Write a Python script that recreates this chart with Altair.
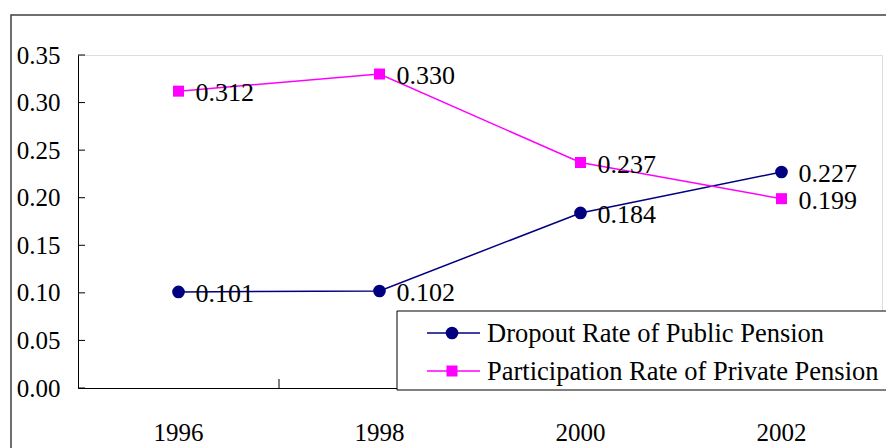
import altair as alt
import pandas as pd

years = ["1996", "1998", "2000", "2002"]
dropout = [0.101, 0.102, 0.184, 0.227]
participation = [0.312, 0.330, 0.237, 0.199]
series_names = ["Dropout Rate of Public Pension", "Participation Rate of Private Pension"]
series_colors = ["#000080", "#FF00FF"]
series_shapes = ["circle", "square"]
y_ticks = [0.00, 0.05, 0.10, 0.15, 0.20, 0.25, 0.30, 0.35]

rows = []
for name, vals in zip(series_names, [dropout, participation]):
    for yr, v in zip(years, vals):
        rows.append({"year": yr, "value": v, "series": name, "label": f"{v:.3f}"})
df = pd.DataFrame(rows)
one = pd.DataFrame({"a": [0]})
ytick_df = pd.DataFrame({"v": y_ticks})
xtick_df = pd.DataFrame({"year": years[1:]})

W, H = 804, 333
FONT = "Liberation Serif"
FS = 25

xscale = alt.Scale(type="band", domain=years, paddingInner=0, paddingOuter=0)
yscale = alt.Scale(domain=[0, 0.35], nice=False, zero=True)
cscale = alt.Scale(domain=series_names, range=series_colors)
sscale = alt.Scale(domain=series_names, range=series_shapes)

x_axis = alt.Axis(title=None, ticks=False, tickSize=0, grid=False, domainColor="black",
                  domainWidth=1, labelFont=FONT, labelFontSize=FS, labelColor="black",
                  labelPadding=32, labelAngle=0)
y_axis = alt.Axis(title=None, ticks=False, tickSize=0, grid=False, domainColor="black",
                  domainWidth=1, labelFont=FONT, labelFontSize=FS, labelColor="black",
                  labelPadding=18, values=y_ticks, format=".2f")

X = alt.X("year:N", scale=xscale, axis=x_axis, bandPosition=0.5)
Y = alt.Y("value:Q", scale=yscale, axis=y_axis)

frame = alt.Chart(one).mark_rect(fill="white", fillOpacity=0, stroke="#404040", strokeWidth=1.5).encode(
    x=alt.value(-67), x2=alt.value(W + 60), y=alt.value(-40), y2=alt.value(H + 120)
)

lines = alt.Chart(df).mark_line(strokeWidth=1.5).encode(
    x=X, y=Y,
    color=alt.Color("series:N", scale=cscale, legend=None),
    detail="series:N",
)

yticks = alt.Chart(ytick_df).mark_rule(color="black", strokeWidth=1).encode(
    y=alt.Y("v:Q", scale=yscale, axis=y_axis), x=alt.value(0), x2=alt.value(7)
)

xticks = alt.Chart(xtick_df).mark_rule(color="black", strokeWidth=1).encode(
    x=alt.X("year:N", scale=xscale, axis=x_axis, bandPosition=0),
    y=alt.value(H - 9), y2=alt.value(H)
)

points = alt.Chart(df).mark_point(filled=True, opacity=1).encode(
    x=X, y=Y,
    color=alt.Color("series:N", scale=cscale, legend=None),
    shape=alt.Shape("series:N", scale=sscale, legend=None),
    size=alt.condition("datum.series == '" + series_names[0] + "'", alt.value(160), alt.value(121)),
)

labels = alt.Chart(df).mark_text(align="left", baseline="middle", dx=17, dy=2,
                                 font=FONT, fontSize=26, color="black").encode(
    x=X, y=Y, text="label:N"
)

legend_box = alt.Chart(one).mark_rect(fill="white", stroke="black", strokeWidth=1).encode(
    x=alt.value(319), x2=alt.value(W + 40), y=alt.value(256), y2=alt.value(335)
)

legend_layers = []
entry_y = [278, 316]
for name, col, shp, ey in zip(series_names, series_colors, series_shapes, entry_y):
    legend_layers.append(
        alt.Chart(one).mark_rule(color=col, strokeWidth=1.5).encode(
            x=alt.value(349), x2=alt.value(402), y=alt.value(ey)
        )
    )
    legend_layers.append(
        alt.Chart(one).mark_point(filled=True, opacity=1, color=col, shape=shp,
                                  size=160 if shp == "circle" else 121).encode(
            x=alt.value(374), y=alt.value(ey)
        )
    )
    legend_layers.append(
        alt.Chart(one).mark_text(align="left", baseline="middle", dy=1, font=FONT,
                                 fontSize=26.5, color="black", text=name).encode(
            x=alt.value(409), y=alt.value(ey)
        )
    )

chart = alt.layer(
    frame, lines, yticks, xticks, points, labels, legend_box, *legend_layers
).properties(
    width=W, height=H,
    autosize=alt.AutoSizeParams(type="none"),
    padding={"left": 70, "top": 47, "right": 4, "bottom": 60},
).configure_view(stroke=None).configure(background="white")

chart.save("out.html", embed_options={"renderer": "svg", "actions": False})
